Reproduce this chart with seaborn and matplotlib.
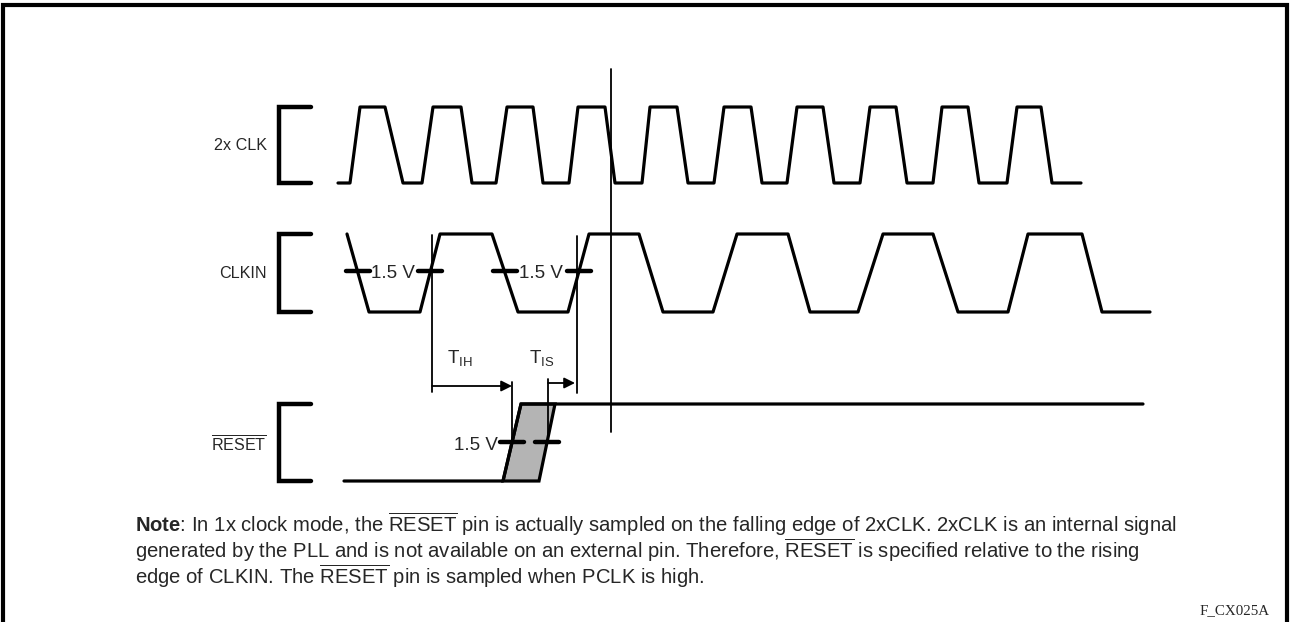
import numpy as np
import matplotlib
matplotlib.use('Agg')
import matplotlib.pyplot as plt
import seaborn as sns

# edge times (pixels along the time axis) and logic levels
clk2x_t = [338, 350, 360, 385, 403, 422, 433, 461, 472, 496, 507, 533, 543, 569, 578, 605,
           615, 642, 650, 677, 688, 714, 724, 751, 762, 787, 797, 823, 834, 860, 870, 896,
           907, 933, 942, 968, 979, 1007, 1017, 1041, 1052, 1081]
clk2x_v = [0, 0, 1, 1, 0, 0, 1, 1, 0, 0, 1, 1, 0, 0, 1, 1,
           0, 0, 1, 1, 0, 0, 1, 1, 0, 0, 1, 1, 0, 0, 1, 1,
           0, 0, 1, 1, 0, 0, 1, 1, 0, 0]
clkin_t = [347, 369, 420, 440, 492, 518, 568, 589, 639, 663, 713, 737, 788, 810,
           858, 883, 933, 958, 1008, 1028, 1082, 1102, 1150]
clkin_v = [1, 0, 0, 1, 1, 0, 0, 1, 1, 0, 0, 1, 1, 0, 0, 1, 1, 0, 0, 1, 1, 0, 0]
reset_start = 344
reset_early = [503, 521]   # earliest rising edge (bottom, top)
reset_late = [539, 555]    # latest rising edge (bottom, top)
reset_end = 1143

signal_names = ['2x CLK', 'CLKIN', r'$\overline{\mathrm{RESET}}$']
thresh_label = '1.5 V'
clkin_marked_edges = [0, 1, 2, 3]   # CLKIN edges that get a 1.5 V tick
sample_x = 611                     # sampling instant (2x CLK falling edge)
t_ih = [432, 512]
t_is = [548, 577]

note_lines = [
    r'$\mathbf{Note}$: In 1x clock mode, the $\overline{\mathrm{RESET}}$ pin is actually sampled on the falling edge of 2xCLK. 2xCLK is an internal signal',
    r'generated by the PLL and is not available on an external pin. Therefore, $\overline{\mathrm{RESET}}$ is specified relative to the rising',
    r'edge of CLKIN. The $\overline{\mathrm{RESET}}$ pin is sampled when PCLK is high.',
]
fig_id = 'F_CX025A'

# layout: (low y, high y) of each row in pixel space
rows = [(183, 107), (312, 234), (481, 404)]
THR = 0.5

sns.set_style('white')
plt.rcParams['font.family'] = ['Liberation Sans', 'DejaVu Sans']
plt.rcParams['mathtext.fontset'] = 'custom'
plt.rcParams['mathtext.rm'] = 'Liberation Sans'
plt.rcParams['mathtext.it'] = 'Liberation Sans:italic'
plt.rcParams['mathtext.bf'] = 'Liberation Sans:bold'

fig = plt.figure(figsize=(12.9, 6.22), dpi=100)
ax = fig.add_axes([0, 0, 1, 1])
ax.set_xlim(0, 1290)
ax.set_ylim(622, 0)
ax.axis('off')

K = 'black'
WLW = 2.3
FS = 13.5


def lvl(row, v):
    lo, hi = rows[row]
    return lo + (hi - lo) * np.asarray(v, dtype=float)


# outer frame (open at the bottom)
ax.plot([3, 3, 1287, 1287], [622, 4.5, 4.5, 622], color=K, lw=3, solid_joinstyle='miter')

# brackets and signal names
for i, name in enumerate(signal_names):
    lo, hi = rows[i]
    ax.plot([311, 279, 279, 311], [hi, hi, lo, lo], color=K, lw=3.2, solid_joinstyle='miter')
    ax.text(267, (lo + hi) / 2 + 1, name, ha='right', va='center', fontsize=11.6)

# waveforms
sns.lineplot(x=clk2x_t, y=lvl(0, clk2x_v), sort=False, estimator=None, color=K, lw=WLW, ax=ax)
sns.lineplot(x=clkin_t, y=lvl(1, clkin_v), sort=False, estimator=None, color=K, lw=WLW, ax=ax)

lo, hi = rows[2]
rx = [reset_start, reset_early[0], reset_early[1], reset_late[1], reset_end]
ry = [lo, lo, hi, hi, hi]
ax.fill([reset_early[0], reset_early[1], reset_late[1], reset_late[0]], [lo, hi, hi, lo],
        facecolor='#b4b4b4', edgecolor=K, lw=WLW, zorder=2)
sns.lineplot(x=rx, y=ry, sort=False, estimator=None, color=K, lw=WLW, ax=ax)

# 1.5 V threshold ticks on CLKIN
y_thr = lvl(1, THR)
cross = []
for e in clkin_marked_edges:
    x0, x1 = clkin_t[2 * e], clkin_t[2 * e + 1]
    cross.append(x0 + (x1 - x0) * (1 - THR) if clkin_v[2 * e] == 1 else x0 + (x1 - x0) * THR)
for c in cross:
    ax.plot([c - 12, c + 12], [y_thr - 2, y_thr - 2], color=K, lw=3.2, zorder=4)
for a, b in [(cross[0], cross[1]), (cross[2], cross[3])]:
    ax.text((a + b) / 2 - 1, y_thr, thresh_label, ha='center', va='center', fontsize=FS)

# 1.5 V ticks on RESET
yr = lvl(2, THR)
rc = [(reset_early[0] + reset_early[1]) / 2, (reset_late[0] + reset_late[1]) / 2]
for c in rc:
    ax.plot([c - 12, c + 12], [yr - 1, yr - 1], color=K, lw=3.2, zorder=4)
ax.text(rc[0] - 14, yr + 3, thresh_label, ha='right', va='center', fontsize=FS)

# timing reference lines
ax.plot([sample_x, sample_x], [69, 432], color=K, lw=1.3)
ax.plot([t_ih[0], t_ih[0]], [235, 392], color=K, lw=1.3)
ax.plot([t_is[1], t_is[1]], [236, 393], color=K, lw=1.3)
ax.plot([t_ih[1], t_ih[1]], [382, 441], color=K, lw=1.3)
ax.plot([t_is[0], t_is[0]], [379, 441], color=K, lw=1.3)

arrow = dict(arrowstyle='-|>', lw=1.3, color=K, shrinkA=0, shrinkB=0, mutation_scale=16)
ax.annotate('', xy=(t_ih[1], 386), xytext=(t_ih[0], 386), arrowprops=arrow)
ax.annotate('', xy=(t_is[1] - 2, 383), xytext=(t_is[0], 383), arrowprops=arrow)
ax.text(447, 358, r'T$_{\mathrm{IH}}$', ha='left', va='center', fontsize=FS)
ax.text(529, 358, r'T$_{\mathrm{IS}}$', ha='left', va='center', fontsize=FS)

# note
for i, line in enumerate(note_lines):
    ax.text(135, 524 + i * 26, line, ha='left', va='center', fontsize=14.6)
ax.text(1270, 611, fig_id, ha='right', va='center', fontsize=10.8, family='Liberation Serif')

fig.savefig('out.png', dpi=100)
